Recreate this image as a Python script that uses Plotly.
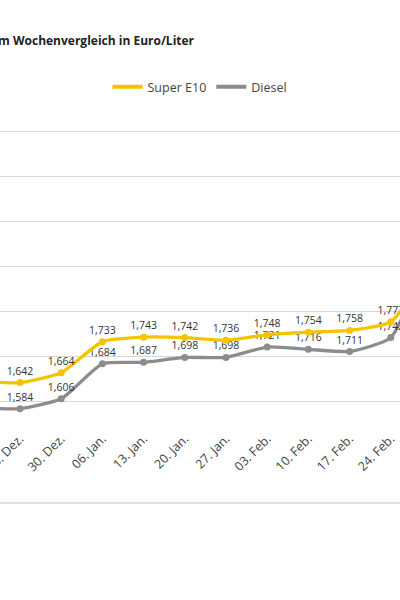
import plotly.graph_objects as go

dates = ["16. Dez.", "23. Dez.", "30. Dez.", "06. Jan.", "13. Jan.", "20. Jan.",
         "27. Jan.", "03. Feb.", "10. Feb.", "17. Feb.", "24. Feb.", "03. Mär."]
super_e10 = [1.645, 1.642, 1.664, 1.733, 1.743, 1.742, 1.736, 1.748, 1.754, 1.758, 1.777, 1.905]
diesel = [1.586, 1.584, 1.606, 1.684, 1.687, 1.698, 1.698, 1.721, 1.716, 1.711, 1.742, 1.950]

YELLOW = "#F5C400"
GRAY = "#8C8C8C"
FONT = "Open Sans"

PLOT_TOP, PLOT_BOT, H = 127, 415, 600
PH = PLOT_BOT - PLOT_TOP

def paper_y(px):
    return 1 + (PLOT_TOP - px) / PH

fig = go.Figure()
for name, vals, col in [("Diesel", diesel, GRAY), ("Super E10", super_e10, YELLOW)]:
    fig.add_trace(go.Scatter(
        x=dates, y=vals, mode="lines+markers+text", name=name,
        line=dict(color=col, width=3.3, shape="spline", smoothing=0.5),
        marker=dict(color=col, size=7),
        texttemplate="%{y:.3f}", textposition="top center",
        textfont=dict(family=FONT, size=10.5, color="#333333"),
        showlegend=False, cliponaxis=False,
    ))
for name, col in [("Super E10", YELLOW), ("Diesel", GRAY)]:
    fig.add_trace(go.Scatter(x=[None], y=[None], mode="lines", name=name,
                             line=dict(color=col, width=4)))

fig.update_layout(
    width=400, height=H,
    margin=dict(l=0, r=0, t=PLOT_TOP, b=H - PLOT_BOT),
    paper_bgcolor="white", plot_bgcolor="white",
    separators=",.",
    font=dict(family=FONT, color="#444444"),
    showlegend=True,
    legend=dict(orientation="h", x=0.5, xanchor="center", y=paper_y(87), yanchor="middle",
                font=dict(size=12.5, color="#444444"), itemwidth=30, traceorder="normal"),
    xaxis=dict(type="category", range=[0.5146, 10.2233], tickangle=-45,
               showgrid=False, showline=False, zeroline=False, ticks="",
               ticklabelstandoff=13,
               tickfont=dict(family=FONT, size=12.5, color="#444444"), automargin=False),
    yaxis=dict(range=[1.57, 2.21], dtick=0.1, tick0=1.6, showticklabels=False,
               gridcolor="#D6D6D6", gridwidth=1, zeroline=False, showline=False,
               automargin=False),
    annotations=[dict(text="<b>Kraftstoffpreise im Wochenvergleich in Euro/Liter</b>",
                      xref="paper", yref="paper", x=197 / 400, xanchor="right",
                      y=paper_y(40), yanchor="middle", showarrow=False,
                      font=dict(family=FONT, size=12, color="#222222"))],
    shapes=[dict(type="line", xref="paper", yref="paper", x0=0, x1=1,
                 y0=paper_y(503), y1=paper_y(503),
                 line=dict(color="#D6D6D6", width=1.5))],
)

fig.write_html("out.html", config={"displayModeBar": False},
               post_script="document.body.style.margin='0';")
